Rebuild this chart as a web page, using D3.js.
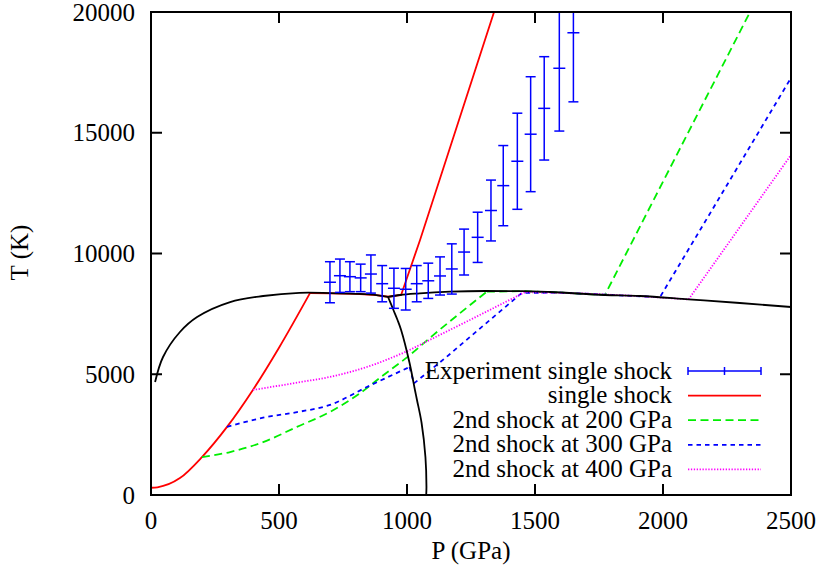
<!DOCTYPE html>
<html>
<head>
<meta charset="utf-8">
<script src="https://cdn.jsdelivr.net/npm/d3@7"></script>
<style>
body { margin: 0; background: #fff; }
svg { display: block; }
</style>
</head>
<body>
<div id="chart"></div>
<script>
"use strict";
// ticks
var xTicks = [0, 500, 1000, 1500, 2000, 2500];
var yTicks = [0, 5000, 10000, 15000, 20000];

// experiment single shock (P in GPa, T in K, +/- error)
var expP = [699, 738, 777, 819, 859, 903, 949, 995, 1038, 1083, 1129, 1175, 1223, 1276, 1328, 1376, 1431, 1483, 1536, 1595, 1650];
var expT = [8810, 9080, 9040, 8990, 9150, 8750, 8560, 8520, 8750, 8870, 9070, 9360, 10060, 10670, 11780, 12810, 13820, 14940, 16010, 17670, 19140];
var expErr = [850, 690, 620, 570, 790, 750, 830, 860, 750, 730, 790, 1040, 950, 1040, 1260, 1660, 1990, 2380, 2140, 2600, 2860];

// single shock hugoniot: curved solid part, then along melting line and up
var redLowP = [0, 25, 113, 199, 297, 398, 500, 621];
var redLowT = [300, 320, 700, 1570, 2820, 4350, 6100, 8360];
var redHighP = [621, 700, 800, 880, 926, 977, 1051, 1340];
var redHighT = [8360, 8350, 8330, 8280, 8210, 8282, 10560, 20000];

// 2nd shock from 200 GPa
var greenLowP = [199, 309, 438, 570, 699, 816, 900, 1000, 1100, 1200, 1312];
var greenLowT = [1570, 1780, 2190, 2820, 3440, 4210, 4900, 5700, 6600, 7470, 8420];
var greenHighP = [1312, 1450, 1600, 1773, 2340];
var greenHighT = [8420, 8440, 8380, 8282, 20000];

// 2nd shock from 300 GPa
var blueLowP = [297, 438, 570, 699, 843, 1010];
var blueLowT = [2820, 3200, 3430, 3730, 4470, 5300];
var blueHighP = [1010, 1027, 1148, 1300, 1449, 1600, 1800, 1988, 2500];
var blueHighT = [5300, 4620, 5660, 7030, 8370, 8380, 8282, 8190, 17270];

// 2nd shock from 400 GPa
var magLowP = [398, 586, 699, 843, 1000];
var magLowT = [4350, 4680, 4890, 5300, 5950];
var magHighP = [1000, 1100, 1250, 1461, 1700, 1900, 2100, 2500];
var magHighT = [5950, 6480, 7270, 8400, 8340, 8240, 8100, 14080];

// phase lines (black)
var meltLeftP = [16, 47, 113, 180, 309, 438, 580, 700, 800, 880, 926];
var meltLeftT = [4680, 5714, 6750, 7370, 7990, 8240, 8370, 8360, 8330, 8280, 8200];
var meltRightP = [926, 973, 1050, 1168, 1305, 1450, 1559, 1773, 1910, 2100, 2300, 2500];
var meltRightT = [8200, 8282, 8350, 8418, 8447, 8440, 8406, 8282, 8240, 8100, 7950, 7785];
var boundP = [926, 947, 963, 977, 1010, 1031, 1039, 1057, 1072, 1076, 1075];
var boundT = [8200, 7660, 7246, 6832, 5466, 4348, 3934, 2981, 1573, 331, 0];

var legendLabels = ["Experiment single shock", "single shock", "2nd shock at 200 GPa", "2nd shock at 300 GPa", "2nd shock at 400 GPa"];

function zip(a, b) {
    return a.map(function (v, i) { return [v, b[i]]; });
}

var margin = { top: 12, right: 30, bottom: 80, left: 151 };
var width = 821 - margin.left - margin.right;
var height = 575 - margin.top - margin.bottom;

var svg = d3.select("#chart").append("svg")
    .attr("width", 821)
    .attr("height", 575)
    .attr("font-family", "'Liberation Serif', 'Times New Roman', Tinos, 'DejaVu Serif', serif");
var g = svg.append("g")
    .attr("transform", "translate(" + margin.left + "," + margin.top + ")");

var x = d3.scaleLinear().domain([0, 2500]).range([0, width]);
var y = d3.scaleLinear().domain([0, 20000]).range([height, 0]);

g.append("clipPath").attr("id", "clip")
    .append("rect").attr("width", width).attr("height", height);

var plot = g.append("g").attr("clip-path", "url(#clip)");

function makeLine(curve) {
    return d3.line()
        .x(function (d) { return x(d[0]); })
        .y(function (d) { return y(d[1]); })
        .curve(curve);
}
var lineMono = makeLine(d3.curveMonotoneX);
var lineLin = makeLine(d3.curveLinear);
var lineCR = makeLine(d3.curveCatmullRom.alpha(0.5));

var series = [
    { low: zip(redLowP, redLowT), high: zip(redHighP, redHighT), color: "#ff0000", dash: null },
    { low: zip(greenLowP, greenLowT), high: zip(greenHighP, greenHighT), color: "#00ee00", dash: "8,4.5" },
    { low: zip(blueLowP, blueLowT), high: zip(blueHighP, blueHighT), color: "#0000ff", dash: "4.5,4" },
    { low: zip(magLowP, magLowT), high: zip(magHighP, magHighT), color: "#ff00ff", dash: "1.3,1.6" }
];

series.forEach(function (s) {
    [[s.low, lineMono], [s.high, lineLin]].forEach(function (part) {
        plot.append("path")
            .datum(part[0])
            .attr("fill", "none")
            .attr("stroke", s.color)
            .attr("stroke-width", 1.8)
            .attr("stroke-dasharray", s.dash)
            .attr("d", part[1]);
    });
});

// black phase lines
[[zip(meltLeftP, meltLeftT), lineCR], [zip(meltRightP, meltRightT), lineMono], [zip(boundP, boundT), lineCR]]
    .forEach(function (part) {
        plot.append("path").datum(part[0])
            .attr("fill", "none").attr("stroke", "#000").attr("stroke-width", 1.8)
            .attr("d", part[1]);
    });

// error bars
var bars = plot.selectAll("g.bar")
    .data(expP.map(function (p, i) { return { p: p, t: expT[i], e: expErr[i] }; }))
    .enter().append("g")
    .attr("class", "bar")
    .attr("stroke", "#0000ff")
    .attr("stroke-width", 1.5);
bars.append("line")
    .attr("x1", function (d) { return x(d.p); })
    .attr("x2", function (d) { return x(d.p); })
    .attr("y1", function (d) { return y(d.t - d.e); })
    .attr("y2", function (d) { return y(d.t + d.e); });
[-1, 1].forEach(function (sgn) {
    bars.append("line")
        .attr("x1", function (d) { return x(d.p) - 5; })
        .attr("x2", function (d) { return x(d.p) + 5; })
        .attr("y1", function (d) { return y(d.t + sgn * d.e); })
        .attr("y2", function (d) { return y(d.t + sgn * d.e); });
});
bars.append("line")
    .attr("x1", function (d) { return x(d.p) - 6; })
    .attr("x2", function (d) { return x(d.p) + 6; })
    .attr("y1", function (d) { return y(d.t); })
    .attr("y2", function (d) { return y(d.t); });

// border and mirrored ticks
var frame = g.append("g").attr("stroke", "#000").attr("stroke-width", 2);
frame.append("rect").attr("width", width).attr("height", height).attr("fill", "none");
xTicks.forEach(function (t) {
    frame.append("line").attr("x1", x(t)).attr("x2", x(t)).attr("y1", height).attr("y2", height - 11);
    frame.append("line").attr("x1", x(t)).attr("x2", x(t)).attr("y1", 0).attr("y2", 11);
});
yTicks.forEach(function (t) {
    frame.append("line").attr("y1", y(t)).attr("y2", y(t)).attr("x1", 0).attr("x2", 11);
    frame.append("line").attr("y1", y(t)).attr("y2", y(t)).attr("x1", width).attr("x2", width - 11);
});

var fs = 25;
g.selectAll("text.xt").data(xTicks).enter().append("text")
    .attr("x", function (d) { return x(d); })
    .attr("y", height + 34)
    .attr("text-anchor", "middle")
    .attr("font-size", fs)
    .text(function (d) { return d; });
g.selectAll("text.yt").data(yTicks).enter().append("text")
    .attr("x", -16)
    .attr("y", function (d) { return y(d) + 8.5; })
    .attr("text-anchor", "end")
    .attr("font-size", fs)
    .text(function (d) { return d; });

g.append("text")
    .attr("x", width / 2)
    .attr("y", height + 64)
    .attr("text-anchor", "middle")
    .attr("font-size", fs)
    .text("P (GPa)");
g.append("text")
    .attr("transform", "translate(" + (28 - margin.left) + "," + (height / 2 - 1) + ") rotate(-90)")
    .attr("text-anchor", "middle")
    .attr("font-size", fs)
    .text("T (K)");

// legend
var legX1 = 688 - margin.left, legX2 = 761 - margin.left, legTextX = 672 - margin.left;
var legY0 = 371 - margin.top, legStep = 24.6;
var leg = g.append("g");
legendLabels.forEach(function (lab, i) {
    var ly = legY0 + i * legStep;
    leg.append("text")
        .attr("x", legTextX)
        .attr("y", ly + 7.5)
        .attr("text-anchor", "end")
        .attr("font-size", fs)
        .text(lab);
    if (i === 0) {
        var eb = leg.append("g").attr("stroke", "#0000ff").attr("stroke-width", 1.5);
        eb.append("line").attr("x1", legX1).attr("x2", legX2).attr("y1", ly).attr("y2", ly);
        [legX1, (legX1 + legX2) / 2, legX2].forEach(function (lx) {
            eb.append("line").attr("x1", lx).attr("x2", lx).attr("y1", ly - 4).attr("y2", ly + 4);
        });
    } else {
        var s = series[i - 1];
        leg.append("line")
            .attr("x1", legX1).attr("x2", legX2)
            .attr("y1", ly).attr("y2", ly)
            .attr("stroke", s.color)
            .attr("stroke-width", 1.8)
            .attr("stroke-dasharray", s.dash);
    }
});
</script>
</body>
</html>
